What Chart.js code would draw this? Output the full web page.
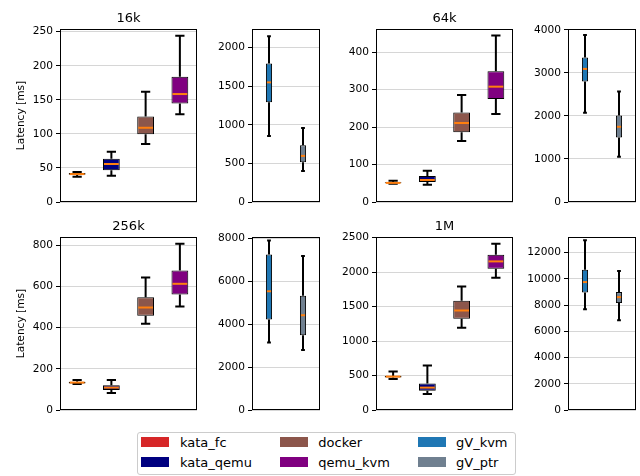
<!DOCTYPE html>
<html><head><meta charset="utf-8">
<script src="https://cdn.jsdelivr.net/npm/chart.js@4.4.0/dist/chart.umd.min.js"></script>
<style>
html,body{margin:0;padding:0;background:#fff;width:640px;height:476px;overflow:hidden;font-family:'DejaVu Sans',sans-serif;}
.pane{position:absolute;}
#legend{position:absolute;left:137px;top:432px;width:379px;height:43px;box-sizing:border-box;border:1px solid #cccccc;border-radius:3px;}
.patch{position:absolute;width:28px;height:10px;}
.lab{position:absolute;font-size:13px;line-height:16px;color:#000;white-space:nowrap;font-family:'DejaVu Sans',sans-serif;}
</style></head><body>
<script>
const runtimes = ['kata_fc','kata_qemu','docker','qemu_kvm','gV_kvm','gV_ptr'];
const runtimeColors = ['#d62728','#000080','#8c564b','#800080','#1f77b4','#708090'];
const sizes = ['16k','64k','256k','1M'];
// five-number summaries per runtime: [low whisker, q1, median, q3, high whisker]
const lat16k = [[37,40,41,42.5,44],[38.6,46.5,55.8,63.6,73.9],[85,99.3,109,125.7,162],[129,144.8,158.5,184,244],[854,1292,1549,1794,2146],[403,515,597,734,957]];
const lat64k = [[49,50,51,53,57],[46.3,53.5,58.8,69.5,83.7],[163,186,211,238.8,286],[235,275,308,349,444.5],[2073,2801,3095,3358,3884],[1052,1501,1749,2012,2569]];
const lat256k = [[126,129,133,137,146],[82.6,97,108.5,119.8,145.7],[417.8,456.7,497,547,643],[502,560,612,677,806.5],[3137,4204,5522,7231,7890],[2792,3482,4408,5318,7169]];
const lat1M = [[451,470,485,495,557],[232.5,281,324.6,382.8,644],[1192,1322.7,1443.8,1584,1792.6],[1918.6,2049.4,2155.9,2252.9,2412.8],[7694,8968,9758,10700,12943],[6854,8153,8611,8994,10599]];
const latBySize = [lat16k, lat64k, lat256k, lat1M];
// y-axis limits and tick values
const mainYMax = [254, 462, 839, 2510];
const gvYMax = [2240, 4023, 8047, 13197];
const mainTicks = [[0,50,100,150,200,250],[0,100,200,300,400],[0,200,400,600,800],[0,500,1000,1500,2000,2500]];
const gvTicks = [[0,500,1000,1500,2000],[0,1000,2000,3000,4000],[0,2000,4000,6000,8000],[0,2000,4000,6000,8000,10000,12000]];
const yLabel = 'Latency [ms]';

const F = "'DejaVu Sans', sans-serif";
const LEFTW = 60, TOPH = 25, RIGHTP = 4, BOTP = 14, AXH = 173;

function makePanel(axLeft, axTop, axW, labels, colors, stats, ymax, ticks, title, ylabel, barPct, capRatio) {
  const div = document.createElement('div');
  div.className = 'pane';
  div.style.left = (axLeft - LEFTW) + 'px';
  div.style.top = (axTop - TOPH) + 'px';
  const cv = document.createElement('canvas');
  cv.width = LEFTW + axW + RIGHTP;
  cv.height = TOPH + AXH + BOTP;
  div.appendChild(cv);
  document.body.appendChild(div);

  const framePlugin = {
    id: 'frame',
    beforeDatasetsDraw(chart) {
      const {ctx, chartArea: a} = chart;
      ctx.save();
      ctx.strokeStyle = '#000';
      ctx.lineWidth = 1;
      ctx.strokeRect(Math.round(a.left) + 0.5, Math.round(a.top) + 0.5, Math.round(a.right - a.left) - 1, Math.round(a.bottom - a.top) - 1);
      ctx.restore();
    }
  };
  const boxPlugin = {
    id: 'boxes',
    afterDatasetsDraw(chart) {
      const ctx = chart.ctx, ys = chart.scales.y;
      const meta = chart.getDatasetMeta(0);
      ctx.save();
      ctx.lineCap = 'butt';
      meta.data.forEach((bar, i) => {
        const s = stats[i];
        const x = bar.x, hw = bar.width / 2, cw = bar.width * capRatio / 2;
        const p = s.map(v => ys.getPixelForValue(v));
        ctx.strokeStyle = '#000';
        ctx.lineWidth = 2;
        ctx.beginPath();
        ctx.moveTo(x, p[3]); ctx.lineTo(x, p[4]);
        ctx.moveTo(x, p[1]); ctx.lineTo(x, p[0]);
        ctx.moveTo(x - cw, p[4]); ctx.lineTo(x + cw, p[4]);
        ctx.moveTo(x - cw, p[0]); ctx.lineTo(x + cw, p[0]);
        ctx.stroke();
        ctx.strokeStyle = '#ff7f0e';
        ctx.beginPath();
        ctx.moveTo(x - hw + 1, p[2]); ctx.lineTo(x + hw - 1, p[2]);
        ctx.stroke();
      });
      ctx.restore();
    }
  };

  new Chart(cv, {
    type: 'bar',
    data: {
      labels: labels,
      datasets: [{
        data: stats.map(s => [s[1], s[3]]),
        backgroundColor: colors,
        borderColor: '#000',
        borderWidth: 1,
        borderSkipped: false,
        barPercentage: barPct,
        categoryPercentage: 1
      }]
    },
    options: {
      responsive: false,
      animation: false,
      devicePixelRatio: 1,
      layout: {padding: {left: 0, right: RIGHTP, top: title ? 0 : TOPH, bottom: BOTP}},
      plugins: {
        legend: {display: false},
        tooltip: {enabled: false},
        title: {
          display: !!title, text: title || '', fullSize: false, color: '#000',
          font: {family: F, size: 13, weight: 'normal'},
          padding: {top: 6.4, bottom: 3}
        }
      },
      scales: {
        x: {display: false},
        y: {
          min: 0, max: ymax,
          afterFit(s) { s.width = LEFTW; },
          afterBuildTicks(s) { s.ticks = ticks.map(v => ({value: v})); },
          ticks: {color: '#000', font: {family: F, size: 10.6}, padding: 3, autoSkip: false, callback: v => String(v)},
          grid: {color: '#d6d6d6', tickColor: '#000', tickLength: 4, lineWidth: 1},
          border: {display: false},
          title: {display: !!ylabel, text: ylabel || '', color: '#000', font: {family: F, size: 10.6}, padding: {top: 15, bottom: 0}}
        }
      }
    },
    plugins: [framePlugin, boxPlugin]
  });
}

const rowTops = [29, 237];
const wideLefts = [60, 376];
const narrowLefts = [252, 568];
sizes.forEach((sz, i) => {
  const row = Math.floor(i / 2), col = i % 2;
  const st = latBySize[i];
  makePanel(wideLefts[col], rowTops[row], 137, runtimes.slice(0, 4), runtimeColors.slice(0, 4), st.slice(0, 4),
    mainYMax[i], mainTicks[i], sz, col === 0 ? yLabel : null, 0.49, 0.55);
  makePanel(narrowLefts[col], rowTops[row], 68, runtimes.slice(4), runtimeColors.slice(4), st.slice(4),
    gvYMax[i], gvTicks[i], null, null, 0.18, 0.62);
});

// legend
const lg = document.createElement('div');
lg.id = 'legend';
document.body.appendChild(lg);
const legCols = [[141, 180], [280, 318.3], [417.7, 456]];
const legRows = [437.3, 457.3];
runtimes.forEach((r, i) => {
  const c = Math.floor(i / 2), rr = i % 2;
  const p = document.createElement('div');
  p.className = 'patch';
  p.style.left = legCols[c][0] + 'px';
  p.style.top = legRows[rr] + 'px';
  p.style.background = runtimeColors[i];
  document.body.appendChild(p);
  const t = document.createElement('div');
  t.className = 'lab';
  t.textContent = r;
  t.style.left = legCols[c][1] + 'px';
  t.style.top = (legRows[rr] + 10 - 12.5) + 'px';
  document.body.appendChild(t);
});
</script>
</body></html>
